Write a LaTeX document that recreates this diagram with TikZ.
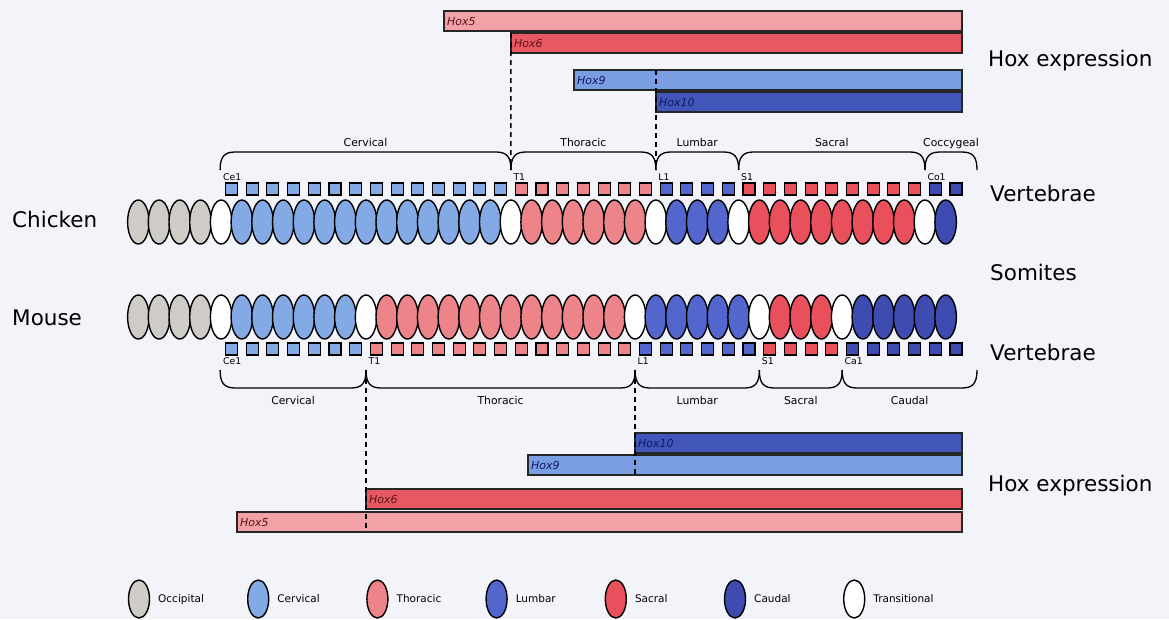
\documentclass[tikz,border=0pt]{standalone}
\usepackage{fontspec}
\setmainfont{DejaVu Sans}
\usetikzlibrary{shapes.geometric}
\definecolor{bgc}{RGB}{242,244,249}
\definecolor{occ}{RGB}{207,203,198}
\definecolor{cer}{RGB}{132,170,230}
\definecolor{tho}{RGB}{236,132,138}
\definecolor{lum}{RGB}{82,102,205}
\definecolor{sac}{RGB}{233,80,92}
\definecolor{cau}{RGB}{62,76,178}
\definecolor{tra}{RGB}{255,255,255}
\definecolor{hfive}{RGB}{242,162,166}
\definecolor{hsix}{RGB}{232,88,98}
\definecolor{hnine}{RGB}{122,158,228}
\definecolor{hten}{RGB}{66,86,186}
\definecolor{redtxt}{RGB}{90,20,25}
\definecolor{bluetxt}{RGB}{15,25,100}
\newcommand\chbr[4]{%
  \draw[brc] (#1,170) .. controls (#1,157) and (#1+4,152) .. (#1+15,152) -- (#2-15,152) .. controls (#2-4,152) and (#2,157) .. (#2,170);
  \node[reglbl] (#4) at ({(#1+#2)/2},146) {#3};}
\newcommand\msbr[4]{%
  \draw[brc] (#1,370) .. controls (#1,383) and (#1+4,388) .. (#1+15,388) -- (#2-15,388) .. controls (#2-4,388) and (#2,383) .. (#2,370);
  \node[reglbl] (#4) at ({(#1+#2)/2},404) {#3};}
\begin{document}
\begin{tikzpicture}[x=1pt,y=-1pt,
  somite/.style={ellipse, draw=black, line width=1.4pt, minimum width=21.5pt, minimum height=44pt, inner sep=0pt, outer sep=0pt},
  legsom/.style={ellipse, draw=black, line width=1.4pt, minimum width=21pt, minimum height=38pt, inner sep=0pt, outer sep=0pt},
  vert/.style={rectangle, draw=black, line width=1.1pt, minimum size=12pt, inner sep=0pt, outer sep=0pt},
  hoxbar/.style={rectangle, draw=black!85, line width=1.3pt, minimum height=20pt, inner sep=0pt, outer sep=0pt, anchor=north west},
  hoxlbl/.style={font=\fontsize{11}{13}\selectfont\itshape, anchor=base west, inner sep=0pt},
  biglbl/.style={font=\fontsize{21.5}{24}\selectfont, anchor=base west, inner sep=0pt},
  reglbl/.style={font=\fontsize{10.8}{12}\selectfont, anchor=base, inner sep=0pt},
  vlbl/.style={font=\fontsize{9.3}{10}\selectfont, inner sep=0pt},
  brc/.style={line width=1.3pt},
  dashln/.style={line width=1.5pt, dash pattern=on 5pt off 4pt},
  leglbl/.style={font=\fontsize{10.5}{12}\selectfont, anchor=base west, inner sep=0pt}
]
\fill[bgc] (0,0) rectangle (1169,619);
\useasboundingbox (0,0) rectangle (1169,619);

% ---------- top Hox bars (chicken)
\node[hoxbar, fill=hfive, minimum width=518pt] (h5t) at (444,11) {};
\node[hoxbar, fill=hsix, minimum width=451pt] (h6t) at (511,33) {};
\node[hoxbar, fill=hnine, minimum width=388pt] (h9t) at (574,70) {};
\node[hoxbar, fill=hten, minimum width=306pt] (h10t) at (656,92) {};
\node[hoxlbl, text=redtxt] (h5tl) at (447,25) {Hox5};
\node[hoxlbl, text=redtxt] (h6tl) at (514,47) {Hox6};
\node[hoxlbl, text=bluetxt] (h9tl) at (577,84) {Hox9};
\node[hoxlbl, text=bluetxt] (h10tl) at (659,106) {Hox10};

% ---------- bottom Hox bars (mouse)
\node[hoxbar, fill=hten, minimum width=327pt] (h10b) at (635,433) {};
\node[hoxbar, fill=hnine, minimum width=434pt] (h9b) at (528,455) {};
\node[hoxbar, fill=hsix, minimum width=596pt] (h6b) at (366,489) {};
\node[hoxbar, fill=hfive, minimum width=725pt] (h5b) at (237,512) {};
\node[hoxlbl, text=bluetxt] (h10bl) at (638,447) {Hox10};
\node[hoxlbl, text=bluetxt] (h9bl) at (531,469) {Hox9};
\node[hoxlbl, text=redtxt] (h6bl) at (369,503) {Hox6};
\node[hoxlbl, text=redtxt] (h5bl) at (240,526) {Hox5};

% ---------- chicken somites
\foreach \col [count=\n from 0] in {occ,occ,occ,occ,tra,cer,cer,cer,cer,cer,cer,cer,cer,cer,cer,cer,cer,cer,tra,tho,tho,tho,tho,tho,tho,tra,lum,lum,lum,tra,sac,sac,sac,sac,sac,sac,sac,sac,tra,cau}
  \node[somite, fill=\col] (c\n) at ({138.35+\n*20.7},222) {};
% chicken vertebrae
\foreach \col [count=\n from 4] in {cer,cer,cer,cer,cer,cer,cer,cer,cer,cer,cer,cer,cer,cer,tho,tho,tho,tho,tho,tho,tho,lum,lum,lum,lum,sac,sac,sac,sac,sac,sac,sac,sac,sac,cau,cau}
  \node[vert, fill=\col] (cv\n) at ({138.35+(\n+0.5)*20.7},189) {};
\node[vlbl, anchor=south west] (cCe1) at ([xshift=-2.5pt,yshift=2.5pt]cv4.north west) {Ce1};
\node[vlbl, anchor=south west] (cT1) at ([xshift=-2pt,yshift=2.5pt]cv18.north west) {T1};
\node[vlbl, anchor=south west] (cL1) at ([xshift=-2pt,yshift=2.5pt]cv25.north west) {L1};
\node[vlbl, anchor=south west] (cS1) at ([xshift=-2pt,yshift=2.5pt]cv29.north west) {S1};
\node[vlbl, anchor=south west] (cCo1) at ([xshift=-2pt,yshift=2.5pt]cv38.north west) {Co1};

% chicken braces
\chbr{220.1}{510.95}{Cervical}{bcC}
\chbr{510.95}{655.85}{Thoracic}{bcT}
\chbr{655.85}{738.65}{Lumbar}{bcL}
\chbr{738.65}{924.95}{Sacral}{bcS}
\chbr{924.95}{977}{Coccygeal}{bcCo}

% ---------- mouse somites
\foreach \col [count=\n from 0] in {occ,occ,occ,occ,tra,cer,cer,cer,cer,cer,cer,tra,tho,tho,tho,tho,tho,tho,tho,tho,tho,tho,tho,tho,tra,lum,lum,lum,lum,lum,tra,sac,sac,sac,tra,cau,cau,cau,cau,cau}
  \node[somite, fill=\col] (m\n) at ({138.35+\n*20.7},317) {};
% mouse vertebrae
\foreach \col [count=\n from 4] in {cer,cer,cer,cer,cer,cer,cer,tho,tho,tho,tho,tho,tho,tho,tho,tho,tho,tho,tho,tho,lum,lum,lum,lum,lum,lum,sac,sac,sac,sac,cau,cau,cau,cau,cau,cau}
  \node[vert, fill=\col] (mv\n) at ({138.35+(\n+0.5)*20.7},349) {};
\node[vlbl, anchor=north west] (mCe1) at ([xshift=-2.5pt,yshift=-2.5pt]mv4.south west) {Ce1};
\node[vlbl, anchor=north west] (mT1) at ([xshift=-2pt,yshift=-2.5pt]mv11.south west) {T1};
\node[vlbl, anchor=north west] (mL1) at ([xshift=-2pt,yshift=-2.5pt]mv24.south west) {L1};
\node[vlbl, anchor=north west] (mS1) at ([xshift=-2pt,yshift=-2.5pt]mv30.south west) {S1};
\node[vlbl, anchor=north west] (mCa1) at ([xshift=-2pt,yshift=-2.5pt]mv34.south west) {Ca1};

% mouse braces
\msbr{220.1}{366.05}{Cervical}{bmC}
\msbr{366.05}{635.15}{Thoracic}{bmT}
\msbr{635.15}{759.35}{Lumbar}{bmL}
\msbr{759.35}{842.15}{Sacral}{bmS}
\msbr{842.15}{977}{Caudal}{bmCa}

% ---------- dashed boundary lines
\coordinate (kT1c) at (510.95,170);
\coordinate (kL1c) at (655.85,170);
\coordinate (kL1top) at (655.85,70);
\coordinate (kT1m) at (366.05,370);
\coordinate (kL1m) at (635.15,370);
\draw[dashln] (h6t.north west) -- (kT1c);
\draw[dashln] (kL1top) -- (kL1c);
\draw[dashln] (kT1m) -- (h5b.south -| kT1m);
\draw[dashln] (kL1m) -- (h9b.south -| kL1m);

% ---------- side labels
\node[biglbl] (lhoxt) at (988,66) {Hox expression};
\node[biglbl] (lvert) at (990,201.5) {Vertebrae};
\node[biglbl] (lsom) at (990,280) {Somites};
\node[biglbl] (lvertm) at (990,360) {Vertebrae};
\node[biglbl] (lhoxb) at (988,491) {Hox expression};
\node[biglbl] (lchick) at (12,227) {Chicken};
\node[biglbl] (lmouse) at (12,325) {Mouse};

% ---------- legend
\foreach \col/\txt [count=\k from 0] in {occ/Occipital,cer/Cervical,tho/Thoracic,lum/Lumbar,sac/Sacral,cau/Caudal,tra/Transitional}{
  \node[legsom, fill=\col] (lg\k) at ({139+\k*119.2},599) {};
  \node[leglbl] (lgt\k) at ({158+\k*119.2},602.5) {\txt};
}
\end{tikzpicture}
\end{document}
